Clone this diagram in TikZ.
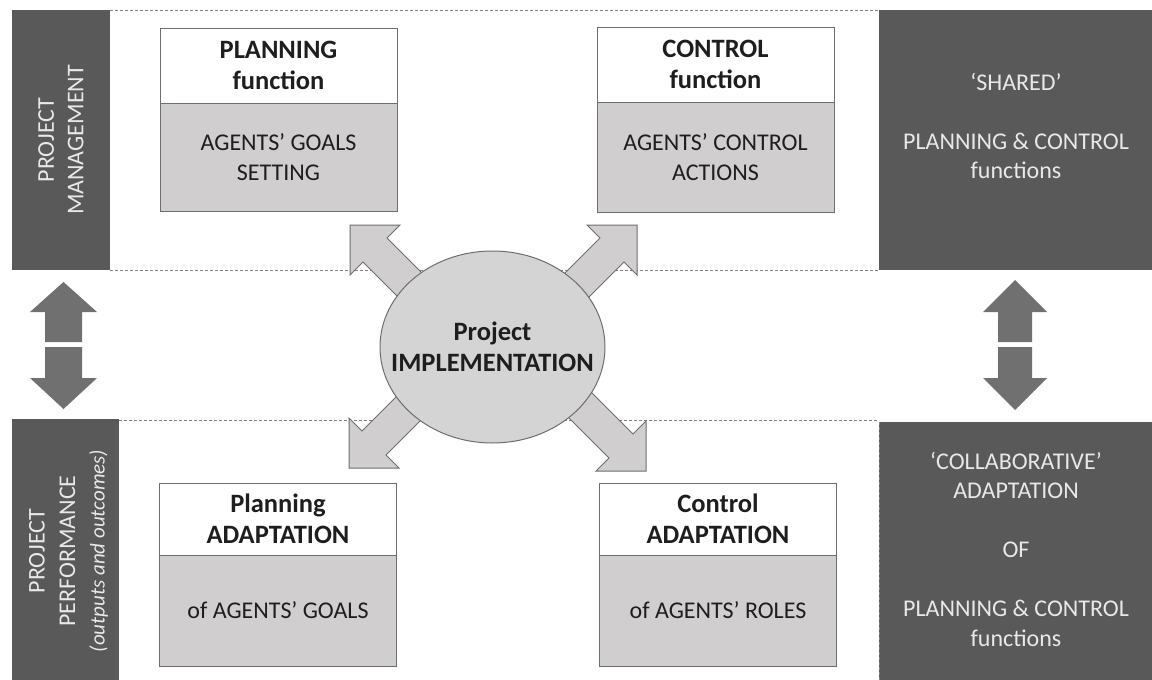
\documentclass[tikz,border=0pt]{standalone}
\usepackage{fontspec}
\setmainfont{Carlito}
\usetikzlibrary{shapes.geometric}
\definecolor{darkbg}{RGB}{89,89,89}
\definecolor{arrowdark}{RGB}{112,112,112}
\definecolor{lightfill}{RGB}{208,206,206}
\definecolor{ellfill}{RGB}{212,212,212}
\definecolor{lighttext}{RGB}{232,232,232}
\definecolor{boxline}{RGB}{110,110,110}
\definecolor{darktext}{RGB}{30,30,30}
\definecolor{dashgray}{RGB}{130,130,130}
\newcommand\blockarrow[3]{%
  \draw[blockarr, shift={(#1)}] (0,0) -- (#2*50,0) -- (#2*37,#3*13) -- (#2*104,#3*80)
    -- (#2*80,#3*104) -- (#2*13,#3*37) -- (0,#3*50) -- cycle;}
\begin{document}
\begin{tikzpicture}[x=1pt,y=-1pt,
  every node/.style={inner sep=0pt, outer sep=0pt, align=center,
    font=\fontsize{24}{29.5}\selectfont},
  darkbox/.style={fill=darkbg, text=lighttext},
  darktxt/.style={text=lighttext},
  headbox/.style={draw=boxline, line width=1pt, fill=white, minimum width=237pt,
    text=darktext, font=\fontsize{26.5}{31}\selectfont\bfseries},
  bodybox/.style={draw=boxline, line width=1pt, fill=lightfill, minimum width=237pt,
    text=darktext},
  dashline/.style={draw=dashgray, line width=0.8pt, dash pattern=on 3pt off 2pt},
  blockarr/.style={fill=lightfill, draw=boxline, line width=1pt, line join=miter},
  darkarr/.style={fill=arrowdark},
  centre/.style={ellipse, draw=boxline, line width=1pt, fill=ellfill,
    minimum width=225pt, minimum height=192pt},
  centretxt/.style={text=darktext, font=\fontsize{26.5}{31}\selectfont\bfseries},
]
\useasboundingbox (0,0) rectangle (1152,680);
\fill[white] (0,0) rectangle (1152,680);

% dashed frames
\draw[dashline] (110,10) -- (879,10);
\draw[dashline] (110,270) -- (879,270);
\draw[dashline] (119,420) -- (879,420);

% dark side boxes
\node[darkbox, rotate=90, minimum width=260pt, minimum height=98pt] (pm) at (61,140)
  {PROJECT\\MANAGEMENT};
\node[darkbox, rotate=90, minimum width=270pt, minimum height=107pt] (pp) at (65.5,554) {};
\node[darktxt, rotate=90] (pptxt) at (68.5,551)
  {PROJECT\\[1pt]PERFORMANCE\\{\fontsize{21}{28}\selectfont\itshape(outputs and outcomes)}};
\node[darkbox, minimum width=273pt, minimum height=260pt] (shared) at (1015.5,140) {};
\node[darktxt] (sharedtxt) at (1016,126) {‘SHARED’\\[29.5pt]PLANNING \& CONTROL\\functions};
\node[darkbox, minimum width=273pt, minimum height=262pt] (collab) at (1015.5,553) {};
\node[darktxt] (collabtxt) at (1016,549)
  {‘COLLABORATIVE’\\ADAPTATION\\[29.5pt]OF\\[29.5pt]PLANNING \& CONTROL\\functions};
\draw[dashline] (879.5,422) -- (879.5,680);

% vertical double arrows
\fill[darkarr] (63.5,282) -- (97,312) -- (82,312) -- (82,342) -- (45,342) -- (45,312) -- (30,312) -- cycle;
\fill[darkarr] (45,347) -- (82,347) -- (82,378) -- (97,378) -- (63.5,409) -- (30,378) -- (45,378) -- cycle;
\fill[darkarr] (1015,280) -- (1047,312) -- (1032,312) -- (1032,342) -- (998,342) -- (998,312) -- (983,312) -- cycle;
\fill[darkarr] (998,347) -- (1032,347) -- (1032,378) -- (1047,378) -- (1015,410) -- (983,378) -- (998,378) -- cycle;

% function boxes
\node[headbox, minimum height=75pt] (planhead) at (278.5,65.5) {PLANNING\\function};
\node[bodybox, minimum height=108pt, anchor=north] (planbody) at (planhead.south)
  {AGENTS’ GOALS\\SETTING};
\node[headbox, minimum height=75pt] (ctrlhead) at (715.5,64.5) {CONTROL\\function};
\node[bodybox, minimum height=110pt, anchor=north] (ctrlbody) at (ctrlhead.south)
  {AGENTS’ CONTROL\\ACTIONS};
\node[headbox, minimum height=72pt] (padhead) at (278,519) {Planning\\ADAPTATION};
\node[bodybox, minimum height=111pt, anchor=north] (padbody) at (padhead.south)
  {of AGENTS’ GOALS};
\node[headbox, minimum height=72pt] (cadhead) at (718,519) {Control\\ADAPTATION};
\node[bodybox, minimum height=111pt, anchor=north] (cadbody) at (cadhead.south)
  {of AGENTS’ ROLES};

% block arrows from the centre
\coordinate (tUL) at (350,225);
\coordinate (tUR) at (637,225);
\coordinate (tLL) at (349,468);
\coordinate (tLR) at (646,471);
\blockarrow{tUL}{1}{1}
\blockarrow{tUR}{-1}{1}
\blockarrow{tLL}{1}{-1}
\blockarrow{tLR}{-1}{-1}

% centre
\node[centre] (impl) at (492.5,347) {};
\node[centretxt] (impltxt) at (impl.center) {Project\\IMPLEMENTATION};
\end{tikzpicture}
\end{document}
